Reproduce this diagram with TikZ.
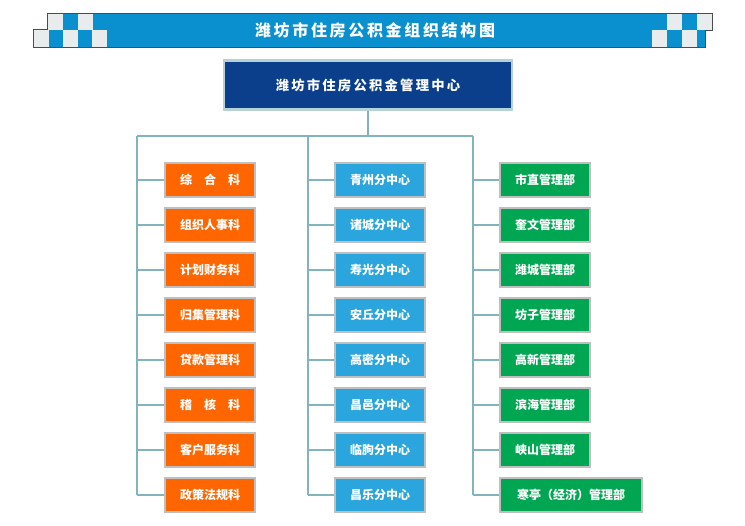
\documentclass[tikz,border=0pt]{standalone}
\usepackage{fontspec}
\setmainfont{Noto Sans CJK SC}
\usetikzlibrary{positioning}
\definecolor{band}{HTML}{0A8FCF}
\definecolor{chk}{HTML}{E8ECEC}
\definecolor{topblue}{HTML}{0B3F8C}
\definecolor{wire}{HTML}{82B4BE}
\definecolor{kor}{HTML}{FF6600}
\definecolor{kblue}{HTML}{2AA5DD}
\definecolor{kgreen}{HTML}{00A651}
\begin{document}
\begin{tikzpicture}[x=0.75pt,y=-0.75pt]
  \tikzset{
    unit/.style={draw=black!25, line width=1.5pt, minimum width=68pt,
      minimum height=25pt, text=white, font=\bfseries\small, inner sep=1pt},
    ke/.style={unit, fill=kor},
    fen/.style={unit, fill=kblue},
    bu/.style={unit, fill=kgreen},
    wire/.style={draw=wire, line width=2.2pt}
  }
  \useasboundingbox (0,0) rectangle (745,525);
  % banner
  \fill[black!70] (47,13) rectangle (713,31);
  \fill[black!70] (33,29) rectangle (706,48);
  \fill[band] (48,14) rectangle (712,30);
  \fill[band] (34,30) rectangle (705,47);
  \foreach \a in {48,78} \fill[chk] (\a,14) rectangle +(15,16);
  \foreach \a in {34,63,92} \fill[chk] (\a,30) rectangle +(15,17);
  \foreach \a in {667,697} \fill[chk] (\a,14) rectangle +(15,16);
  \foreach \a in {652,682} \fill[chk] (\a,30) rectangle +(15,17);
  \node[text=white, font=\bfseries\large] (title) at (375,30)
    {潍\,坊\,市\,住\,房\,公\,积\,金\,组\,织\,结\,构\,图};
  % head
  \node[draw=wire!60, line width=2pt, fill=topblue, minimum width=216pt,
    minimum height=37pt, text=white, font=\bfseries] (head) at (368,85)
    {潍\,坊\,市\,住\,房\,公\,积\,金\,管\,理\,中\,心};
  \coordinate (hub) at (368,136);
  \coordinate (l0) at (137,136);
  \coordinate (m0) at (308,136);
  \coordinate (r0) at (473,136);
  \draw[wire] (head.south) -- (hub);
  \draw[wire] (l0) -- (r0);
  % columns
  \foreach \t [count=\i] in {综\quad 合\quad 科,组织人事科,计划财务科,归集管理科,
      贷款管理科,稽\quad 核\quad 科,客户服务科,政策法规科} {
    \node[ke] (k\i) at (210,{135+45*\i}) {\t};
    \draw[wire] (k\i.west) -- (k\i.west -| l0);
  }
  \foreach \t [count=\i] in {青州分中心,诸城分中心,寿光分中心,安丘分中心,
      高密分中心,昌邑分中心,临朐分中心,昌乐分中心} {
    \node[fen] (f\i) at (380,{135+45*\i}) {\t};
    \draw[wire] (f\i.west) -- (f\i.west -| m0);
  }
  \foreach \t [count=\i] in {市直管理部,奎文管理部,潍城管理部,坊子管理部,
      高新管理部,滨海管理部,峡山管理部} {
    \node[bu] (b\i) at (545,{135+45*\i}) {\t};
    \draw[wire] (b\i.west) -- (b\i.west -| r0);
  }
  \node[bu, minimum width=107pt] (b8) at (571,495) {寒亭（经济）管理部};
  \draw[wire] (b8.west) -- (b8.west -| r0);
  \draw[wire] (l0) -- (k8.west -| l0);
  \draw[wire] (m0) -- (f8.west -| m0);
  \draw[wire] (r0) -- (b8.west -| r0);
\end{tikzpicture}
\end{document}
